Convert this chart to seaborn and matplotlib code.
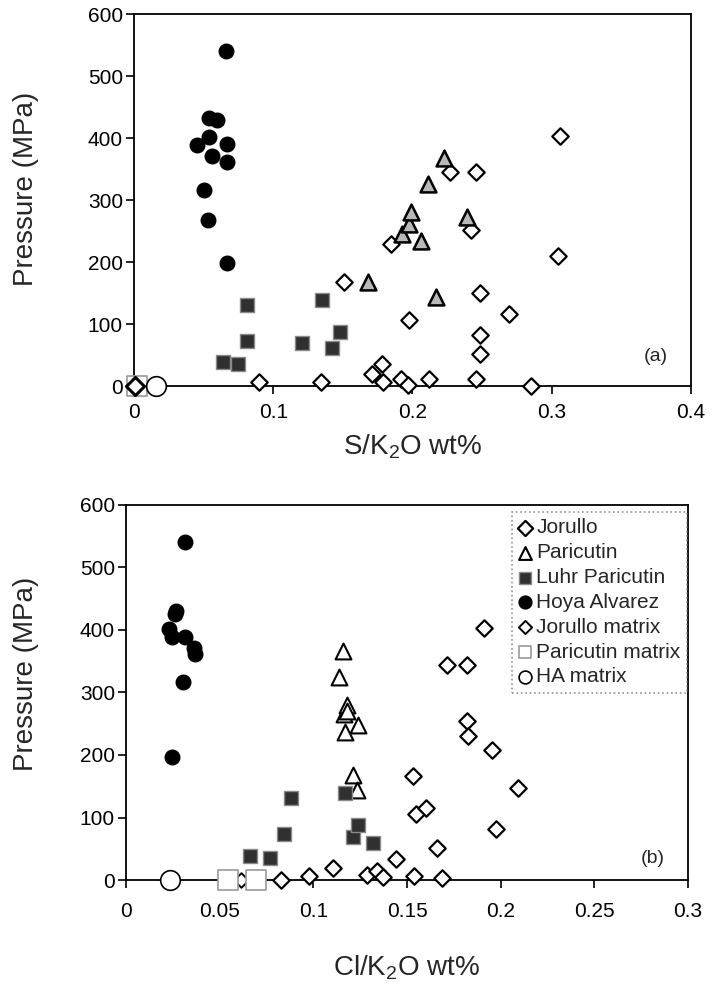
import matplotlib
matplotlib.use("Agg")
import matplotlib.pyplot as plt
import seaborn as sns
import pandas as pd

sns.set_style("ticks")
plt.rcParams['font.family'] = ['Liberation Sans', 'DejaVu Sans']
plt.rcParams['mathtext.fontset'] = 'custom'
plt.rcParams['mathtext.rm'] = 'Liberation Sans'

# ---------------- Panel (a): S/K2O ----------------
a_jorullo_x = [0.090, 0.134, 0.1508, 0.1845, 0.1706, 0.1778, 0.179, 0.1921, 0.1969, 0.1974, 0.212,
               0.2268, 0.2417, 0.2455, 0.2453, 0.2484, 0.2484, 0.2484, 0.2694, 0.2848, 0.3046, 0.3058]
a_jorullo_y = [7, 7, 167, 229, 19, 35, 7, 11, 1, 106, 12,
               345, 252, 346, 12, 150, 82, 52, 116, 0, 209, 404]
a_paricutin_x = [0.1678, 0.1922, 0.1977, 0.1989, 0.2058, 0.2108, 0.2166, 0.2225, 0.2388]
a_paricutin_y = [167, 245, 262, 281, 234, 326, 144, 367, 272]
a_luhr_x = [0.0641, 0.0744, 0.0809, 0.0809, 0.1206, 0.135, 0.142, 0.148]
a_luhr_y = [38, 35, 131, 73, 69, 138, 61, 87]
a_hoya_x = [0.045, 0.0505, 0.0534, 0.0538, 0.054, 0.0558, 0.0598, 0.0658, 0.0665, 0.0665, 0.067]
a_hoya_y = [388, 316, 267, 402, 432, 371, 429, 541, 390, 362, 198]
a_jmatrix_x = [0.001]
a_jmatrix_y = [0]
a_pmatrix_x = [0.002]
a_pmatrix_y = [0]
a_hamatrix_x = [0.016]
a_hamatrix_y = [0]

# ---------------- Panel (b): Cl/K2O ----------------
b_jorullo_x = [0.0826, 0.0977, 0.1107, 0.1285, 0.1338, 0.137, 0.1442, 0.1534, 0.1538, 0.1548, 0.1602,
               0.1659, 0.1685, 0.1716, 0.1819, 0.1819, 0.1828, 0.1913, 0.1956, 0.1974, 0.2091]
b_jorullo_y = [0, 7, 19, 8, 15, 5, 33, 166, 6, 106, 115,
               52, 3, 344, 344, 255, 230, 403, 208, 81, 148]
b_paricutin_x = [0.1139, 0.1157, 0.1164, 0.1169, 0.1182, 0.1180, 0.1214, 0.1232, 0.1240]
b_paricutin_y = [325, 367, 266, 236, 280, 270, 168, 144, 248]
b_luhr_x = [0.066, 0.0767, 0.0845, 0.0879, 0.1169, 0.1214, 0.124, 0.132]
b_luhr_y = [38, 35, 74, 131, 139, 69, 88, 60]
b_hoya_x = [0.0231, 0.0244, 0.0244, 0.0262, 0.0267, 0.0303, 0.0315, 0.0315, 0.0363, 0.0368]
b_hoya_y = [401, 389, 197, 425, 431, 316, 540, 388, 371, 362]
b_jmatrix_x = [0.0612]
b_jmatrix_y = [0]
b_pmatrix_x = [0.0546, 0.0694]
b_pmatrix_y = [0, 0]
b_hamatrix_x = [0.0235]
b_hamatrix_y = [0]

labels = ["Jorullo", "Paricutin", "Luhr Paricutin", "Hoya Alvarez",
          "Jorullo matrix", "Paricutin matrix", "HA matrix"]

fig = plt.figure(figsize=(7.12, 9.88), dpi=100)
ax_a = fig.add_axes([0.1882, 0.6093, 0.7823, 0.3765])
ax_b = fig.add_axes([0.1770, 0.1093, 0.7893, 0.3796])


def draw(ax, data, tri_face):
    (jx, jy), (px, py), (lx, ly), (hx, hy), (jmx, jmy), (pmx, pmy), (hmx, hmy) = data
    common = dict(ax=ax, clip_on=False, legend=False)
    sns.scatterplot(x=jx, y=jy, marker='D', s=70, color='white', edgecolor='black',
                    linewidth=1.6, zorder=4, label=labels[0], **common)
    sns.scatterplot(x=px, y=py, marker='^', s=130, color=tri_face, edgecolor='black',
                    linewidth=1.8 if tri_face != 'white' else 1.5, zorder=5, label=labels[1], **common)
    sns.scatterplot(x=lx, y=ly, marker='s', s=115, color='#303030', edgecolor='#8a8a8a',
                    linewidth=1.0, zorder=5, label=labels[2], **common)
    sns.scatterplot(x=hx, y=hy, marker='o', s=110, color='black', edgecolor='black',
                    linewidth=1.0, zorder=5, label=labels[3], **common)
    sns.scatterplot(x=pmx, y=pmy, marker='s', s=200, color='white', edgecolor='#9a9a9a',
                    linewidth=1.2, zorder=6, label=labels[5], **common)
    sns.scatterplot(x=jmx, y=jmy, marker='D', s=85 if ax is ax_a else 55, color='white',
                    edgecolor='black', linewidth=2.2 if ax is ax_a else 1.4,
                    zorder=7 if ax is ax_a else 5.5, label=labels[4], **common)
    sns.scatterplot(x=hmx, y=hmy, marker='o', s=200, color='white', edgecolor='black',
                    linewidth=1.2, zorder=6, label=labels[6], **common)


draw(ax_a, [(a_jorullo_x, a_jorullo_y), (a_paricutin_x, a_paricutin_y), (a_luhr_x, a_luhr_y),
            (a_hoya_x, a_hoya_y), (a_jmatrix_x, a_jmatrix_y), (a_pmatrix_x, a_pmatrix_y),
            (a_hamatrix_x, a_hamatrix_y)], '#b8b8b8')
draw(ax_b, [(b_jorullo_x, b_jorullo_y), (b_paricutin_x, b_paricutin_y), (b_luhr_x, b_luhr_y),
            (b_hoya_x, b_hoya_y), (b_jmatrix_x, b_jmatrix_y), (b_pmatrix_x, b_pmatrix_y),
            (b_hamatrix_x, b_hamatrix_y)], 'white')

for ax, xmax, xticks, xticklabels, xpad in [
        (ax_a, 0.4, [0, 0.1, 0.2, 0.3, 0.4], ['0', '0.1', '0.2', '0.3', '0.4'], 6),
        (ax_b, 0.3, [0, 0.05, 0.1, 0.15, 0.2, 0.25, 0.3], ['0', '0.05', '0.1', '0.15', '0.2', '0.25', '0.3'], 10)]:
    ax.set_xlim(0, xmax)
    ax.set_ylim(0, 600)
    ax.set_xticks(xticks)
    ax.set_xticklabels(xticklabels)
    ax.set_yticks([0, 100, 200, 300, 400, 500, 600])
    ax.set_yticklabels(['0', '100', '200', '300', '400', '500', '600'])
    ax.tick_params(axis='y', direction='out', length=6, width=1.2, labelsize=15, pad=2, colors='black')
    ax.tick_params(axis='x', direction='out', length=6, width=1.2, labelsize=15, pad=xpad, colors='black')
    for sp in ax.spines.values():
        sp.set_visible(True)
        sp.set_color('black')
        sp.set_linewidth(1.3)
    ax.set_ylabel('Pressure (MPa)', fontsize=20)

ax_a.set_xlabel(r'S/K$_\mathregular{2}$O wt%', fontsize=20, va='top')
ax_a.xaxis.set_label_coords(0.5, -0.125)
ax_a.yaxis.set_label_coords(-0.17, 0.53)
ax_a.text(0.375, 48, '(a)', fontsize=14, ha='center', va='center')

ax_b.set_xlabel(r'Cl/K$_\mathregular{2}$O wt%', fontsize=20, va='top')
ax_b.xaxis.set_label_coords(0.5, -0.195)
ax_b.yaxis.set_label_coords(-0.155, 0.55)
ax_b.text(0.2814, 35, '(b)', fontsize=14, ha='center', va='center')

handles, labs = ax_b.get_legend_handles_labels()
order = [labs.index(l) for l in labels]
leg = ax_b.legend([handles[i] for i in order], [labs[i] for i in order],
                  loc='upper right', bbox_to_anchor=(0.998, 0.981), borderaxespad=0,
                  fontsize=15, handlelength=0.6, handletextpad=0.25, labelspacing=0.28,
                  borderpad=0.3, frameon=True, fancybox=False)
leg_sizes = [60, 85, 80, 85, 45, 80, 85]
for h, sz in zip(leg.legend_handles, leg_sizes):
    h.set_sizes([sz])
fr = leg.get_frame()
fr.set_edgecolor('#777777')
fr.set_linestyle(':')
fr.set_linewidth(1.2)

fig.savefig('out.png', dpi=100)
